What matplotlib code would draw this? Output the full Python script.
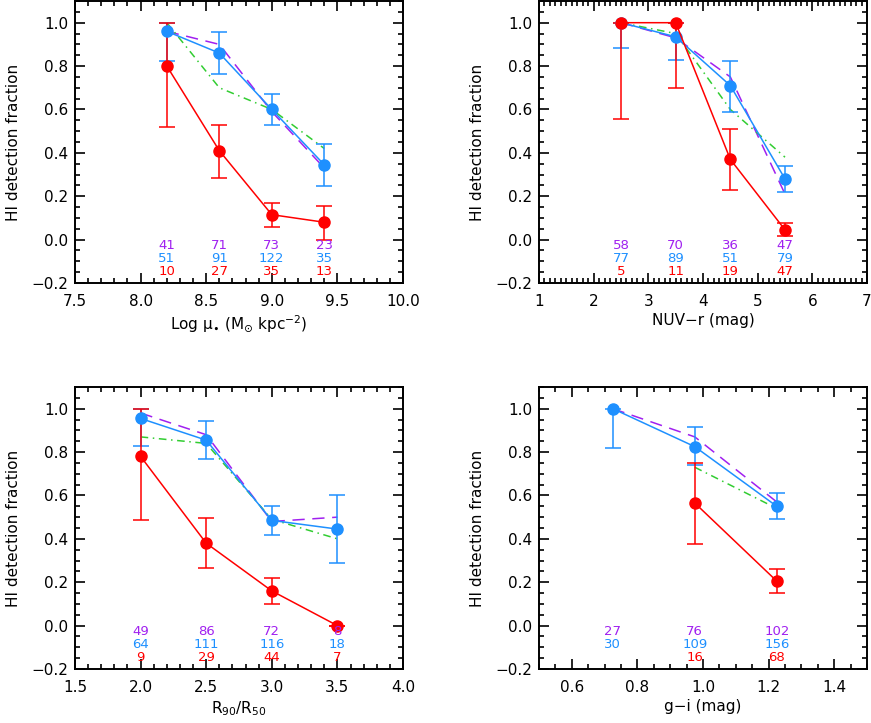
import matplotlib
matplotlib.use("Agg")
import matplotlib.pyplot as plt
import numpy as np
from matplotlib.ticker import MultipleLocator

RED = '#ff0000'
BLUE = '#1e90ff'
PURPLE = '#a020f0'
GREEN = '#32cd32'

# panel 1: log mu*
mu_x = [8.2, 8.6, 9.0, 9.4]
mu_red = [0.80, 0.41, 0.115, 0.08]
mu_red_lo = [0.52, 0.285, 0.06, 0.0]
mu_red_hi = [1.0, 0.53, 0.17, 0.155]
mu_blue = [0.96, 0.86, 0.60, 0.345]
mu_blue_lo = [0.825, 0.765, 0.53, 0.245]
mu_blue_hi = [1.0, 0.955, 0.67, 0.44]
mu_purple = [0.96, 0.90, 0.59, 0.33]
mu_green = [1.0, 0.70, 0.60, 0.42]
mu_n_purple = ['41', '71', '73', '23']
mu_n_blue = ['51', '91', '122', '35']
mu_n_red = ['10', '27', '35', '13']

# panel 2: NUV-r
nuv_x = [2.5, 3.5, 4.5, 5.5]
nuv_red = [1.0, 1.0, 0.37, 0.045]
nuv_red_lo = [0.555, 0.70, 0.23, 0.015]
nuv_red_hi = [1.0, 1.0, 0.51, 0.075]
nuv_blue = [1.0, 0.935, 0.71, 0.28]
nuv_blue_lo = [0.885, 0.83, 0.59, 0.22]
nuv_blue_hi = [1.0, 1.0, 0.825, 0.34]
nuv_purple = [1.0, 0.93, 0.75, 0.21]
nuv_green = [1.0, 0.95, 0.60, 0.38]
nuv_n_purple = ['58', '70', '36', '47']
nuv_n_blue = ['77', '89', '51', '79']
nuv_n_red = ['5', '11', '19', '47']

# panel 3: R90/R50
con_x = [2.0, 2.5, 3.0, 3.5]
con_red = [0.78, 0.38, 0.16, 0.0]
con_red_lo = [0.485, 0.265, 0.10, 0.0]
con_red_hi = [1.0, 0.495, 0.22, 0.0]
con_blue = [0.955, 0.855, 0.485, 0.445]
con_blue_lo = [0.83, 0.77, 0.42, 0.29]
con_blue_hi = [1.0, 0.945, 0.55, 0.60]
con_purple = [0.98, 0.88, 0.48, 0.50]
con_green = [0.87, 0.84, 0.49, 0.40]
con_n_purple = ['49', '86', '72', '8']
con_n_blue = ['64', '111', '116', '18']
con_n_red = ['9', '29', '44', '7']

# panel 4: g-i
gi_x = [0.725, 0.975, 1.225]
gi_red = [np.nan, 0.565, 0.205]
gi_red_lo = [np.nan, 0.375, 0.15]
gi_red_hi = [np.nan, 0.75, 0.26]
gi_blue = [1.0, 0.825, 0.55]
gi_blue_lo = [0.82, 0.74, 0.49]
gi_blue_hi = [1.0, 0.915, 0.61]
gi_purple = [1.0, 0.87, 0.57]
gi_green = [np.nan, 0.73, 0.54]
gi_n_purple = ['27', '76', '102']
gi_n_blue = ['30', '109', '156']
gi_n_red = ['', '16', '68']

panels = [
    dict(x=mu_x, red=mu_red, rlo=mu_red_lo, rhi=mu_red_hi, blue=mu_blue, blo=mu_blue_lo,
         bhi=mu_blue_hi, purple=mu_purple, green=mu_green, np_=mu_n_purple, nb=mu_n_blue,
         nr=mu_n_red, xlim=(7.5, 10.0), major=0.5, minor=0.1,
         xlabel=r'Log $\mu_{\bullet}$ (M$_{\odot}$ kpc$^{-2}$)', fmt='%.1f'),
    dict(x=nuv_x, red=nuv_red, rlo=nuv_red_lo, rhi=nuv_red_hi, blue=nuv_blue, blo=nuv_blue_lo,
         bhi=nuv_blue_hi, purple=nuv_purple, green=nuv_green, np_=nuv_n_purple, nb=nuv_n_blue,
         nr=nuv_n_red, xlim=(1, 7), major=1, minor=0.1,
         xlabel='NUV\u2212r (mag)', fmt='%d'),
    dict(x=con_x, red=con_red, rlo=con_red_lo, rhi=con_red_hi, blue=con_blue, blo=con_blue_lo,
         bhi=con_blue_hi, purple=con_purple, green=con_green, np_=con_n_purple, nb=con_n_blue,
         nr=con_n_red, xlim=(1.5, 4.0), major=0.5, minor=0.1,
         xlabel=r'R$_{90}$/R$_{50}$', fmt='%.1f'),
    dict(x=gi_x, red=gi_red, rlo=gi_red_lo, rhi=gi_red_hi, blue=gi_blue, blo=gi_blue_lo,
         bhi=gi_blue_hi, purple=gi_purple, green=gi_green, np_=gi_n_purple, nb=gi_n_blue,
         nr=gi_n_red, xlim=(0.5, 1.5), major=0.2, minor=0.05,
         xlabel='g\u2212i (mag)', fmt='%.1f'),
]

W, H = 871, 723
fig = plt.figure(figsize=(W / 100, H / 100), dpi=100)
boxes = [(75, 1), (539, 1), (75, 387), (539, 387)]
bw, bh = 328, 282

plt.rcParams['font.size'] = 10
plt.rcParams['mathtext.default'] = 'regular'

for p, (px, py) in zip(panels, boxes):
    ax = fig.add_axes([px / W, 1 - (py + bh) / H, bw / W, bh / H])
    x = np.array(p['x'])

    ax.plot(x, p['purple'], color=PURPLE, lw=1.1, dashes=(8, 5))
    ax.plot(x, p['green'], color=GREEN, lw=1.1, dashes=(5, 3, 1, 3))

    b = np.array(p['blue'])
    ax.errorbar(x, b, yerr=[b - np.array(p['blo']), np.array(p['bhi']) - b],
                color=BLUE, lw=1.1, marker='o', ms=8, capsize=5.5, capthick=1.1,
                elinewidth=1.1)
    r = np.array(p['red'])
    ax.errorbar(x, r, yerr=[r - np.array(p['rlo']), np.array(p['rhi']) - r],
                color=RED, lw=1.1, marker='o', ms=8, capsize=5.5, capthick=1.1,
                elinewidth=1.1)

    for xi, a, bb, c in zip(x, p['np_'], p['nb'], p['nr']):
        ax.text(xi, -0.025, a, color=PURPLE, ha='center', va='center', fontsize=9.5)
        ax.text(xi, -0.085, bb, color=BLUE, ha='center', va='center', fontsize=9.5)
        ax.text(xi, -0.145, c, color=RED, ha='center', va='center', fontsize=9.5)

    ax.set_xlim(*p['xlim'])
    ax.set_ylim(-0.2, 1.1)
    ax.xaxis.set_major_locator(MultipleLocator(p['major']))
    ax.xaxis.set_minor_locator(MultipleLocator(p['minor']))
    ax.yaxis.set_major_locator(MultipleLocator(0.2))
    ax.yaxis.set_minor_locator(MultipleLocator(0.05))
    ax.xaxis.set_major_formatter(matplotlib.ticker.FormatStrFormatter(p['fmt']))
    ax.yaxis.set_major_formatter(matplotlib.ticker.FuncFormatter(
        lambda v, pos: ('%.1f' % v).replace('-', '\u2212')))
    ax.tick_params(which='both', direction='in', top=True, right=True, width=1.2)
    ax.tick_params(which='major', length=7, pad=8, labelsize=11)
    ax.tick_params(which='minor', length=3.5)
    ax.tick_params(axis='y', which='major', pad=5)
    for s in ax.spines.values():
        s.set_linewidth(1.4)
    ax.set_xlabel(p['xlabel'], fontsize=11, labelpad=3)
    ax.set_ylabel('HI detection fraction', fontsize=11, labelpad=7)

fig.savefig('out.png', dpi=100)
